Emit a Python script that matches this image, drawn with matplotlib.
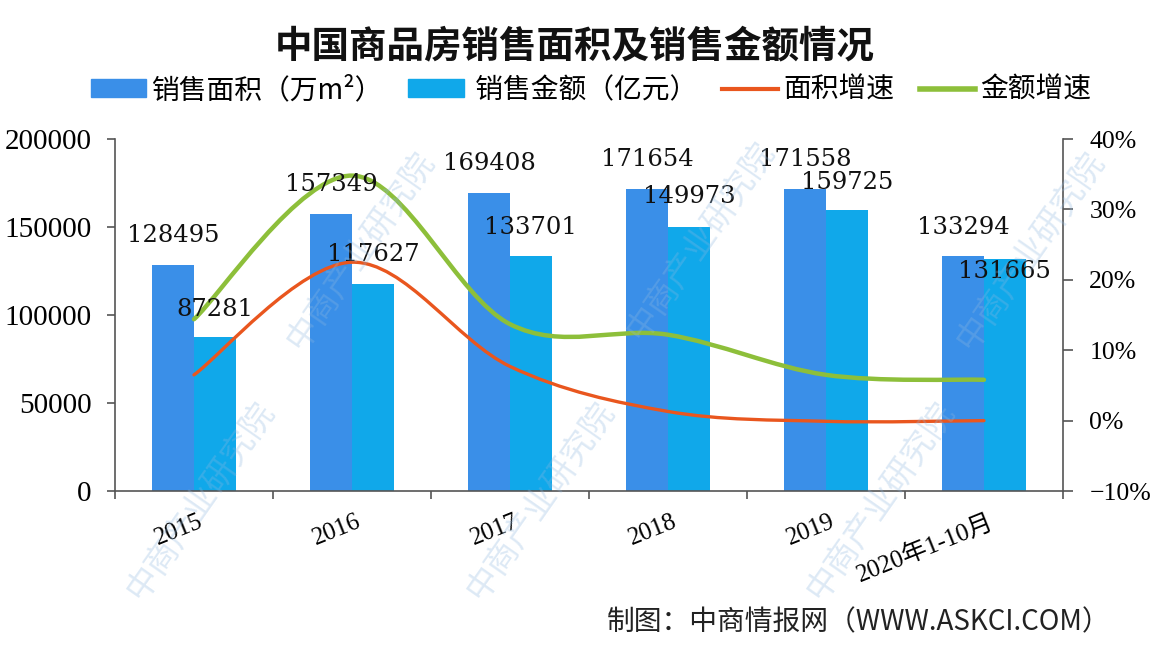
import numpy as np
import matplotlib
matplotlib.use('Agg')
import matplotlib.pyplot as plt
from matplotlib.path import Path
from matplotlib.patches import PathPatch, Patch
from matplotlib.lines import Line2D
from matplotlib.transforms import ScaledTranslation

plt.rcParams['font.family'] = ['Noto Sans CJK SC', 'DejaVu Sans']
plt.rcParams['axes.unicode_minus'] = True

# data
years = ['2015', '2016', '2017', '2018', '2019', '2020年1-10月']
area = [128495, 157349, 169408, 171654, 171558, 133294]      # 万m²
amount = [87281, 117627, 133701, 149973, 159725, 131665]     # 亿元
area_growth = [6.5, 22.5, 7.7, 1.3, -0.1, 0.0]               # %
amount_growth = [14.4, 34.8, 13.7, 12.2, 6.5, 5.8]           # %
left_ticks = [0, 50000, 100000, 150000, 200000]
right_ticks = [-10, 0, 10, 20, 30, 40]

c_area = '#3a8fe8'
c_amount = '#10a8ea'
c_area_g = '#e9561e'
c_amount_g = '#8dbf3a'
spine_c = '#555555'
serif = ['Liberation Serif', 'Noto Sans CJK SC']


def smooth_path(xs, ys):
    # excel-like smoothed line: catmull-rom -> cubic bezier
    pts = np.column_stack([xs, ys]).astype(float)
    n = len(pts)
    verts = [pts[0]]
    codes = [Path.MOVETO]
    for i in range(n - 1):
        p0 = pts[max(i - 1, 0)]
        p1 = pts[i]
        p2 = pts[i + 1]
        p3 = pts[min(i + 2, n - 1)]
        verts += [p1 + (p2 - p0) / 6, p2 - (p3 - p1) / 6, p2]
        codes += [Path.CURVE4] * 3
    return Path(verts, codes)


fig = plt.figure(figsize=(11.5, 6.52), dpi=100)
ax = fig.add_axes([0.1, 0.2469, 0.8243, 0.5399])
ax2 = ax.twinx()

x = np.arange(len(years))
w = 0.265
ax.bar(x - w / 2, area, w, color=c_area, zorder=2)
ax.bar(x + w / 2, amount, w, color=c_amount, zorder=2)

ax.set_xlim(-0.5, len(years) - 0.5)
ax.set_ylim(0, 200000)
ax2.set_ylim(-10, 40)

# growth lines (smoothed)
ax2.add_patch(PathPatch(smooth_path(x, area_growth), fill=False,
                        edgecolor=c_area_g, lw=2.4, capstyle='round', zorder=3))
ax2.add_patch(PathPatch(smooth_path(x, amount_growth), fill=False,
                        edgecolor=c_amount_g, lw=3.2, capstyle='round', zorder=3))

# value labels
dy_area = [21, 21, 21, 21, 21, 21]
dy_amount = [20, 21, 20, 22, 20, -9]
for i in range(len(years)):
    ax2.annotate(str(area[i]), xy=(x[i] - w / 2, area[i]), xycoords=ax.transData,
                 xytext=(0, dy_area[i]), textcoords='offset points',
                 ha='center', va='center', fontsize=17.5, family='DejaVu Serif',
                 color='#111111', zorder=5)
    ax2.annotate(str(amount[i]), xy=(x[i] + w / 2, amount[i]), xycoords=ax.transData,
                 xytext=(0, dy_amount[i]), textcoords='offset points',
                 ha='center', va='center', fontsize=17.5, family='DejaVu Serif',
                 color='#111111', zorder=5)

# axes styling
for s in ['top', 'right']:
    ax.spines[s].set_visible(False)
for s in ['top', 'left', 'bottom']:
    ax2.spines[s].set_visible(False)
ax.spines['left'].set_color(spine_c)
ax.spines['bottom'].set_color(spine_c)
ax2.spines['right'].set_color(spine_c)
for sp in [ax.spines['left'], ax.spines['bottom'], ax2.spines['right']]:
    sp.set_linewidth(1.2)

ax.set_yticks(left_ticks)
ax.set_yticklabels([str(v) for v in left_ticks], family=serif, fontsize=21)
ax.tick_params(axis='y', length=6, width=1.2, color=spine_c, pad=11)

ax2.set_yticks(right_ticks)
ax2.set_yticklabels([f'{v}%'.replace('-', '\u2212') for v in right_ticks],
                    family=serif, fontsize=18.5)
ax2.tick_params(axis='y', length=7, width=1.2, color=spine_c, pad=12)

ax.set_xticks(np.arange(-0.5, len(years), 1))
ax.set_xticklabels([])
ax.tick_params(axis='x', which='major', length=6, width=1.2, color=spine_c)
ax.set_xticks(x, years, minor=True)
ax.tick_params(axis='x', which='minor', length=0, pad=14)
for lbl in ax.get_xticklabels(minor=True):
    lbl.set_family(serif)
    lbl.set_fontsize(18)
    lbl.set_rotation(22)
    lbl.set_ha('right')
    lbl.set_va('top')
    lbl.set_rotation_mode('anchor')
    lbl.set_transform(lbl.get_transform() + ScaledTranslation(3 / 72, 0, fig.dpi_scale_trans))

# title & legend
fig.text(0.5, 0.93, '中国商品房销售面积及销售金额情况', ha='center', va='center',
         fontsize=27, fontweight='bold', color='#111111')

handles = [Patch(color=c_area), Patch(color=c_amount),
           Line2D([], [], color=c_area_g, lw=3), Line2D([], [], color=c_amount_g, lw=4)]
labels = ['销售面积（万m²）', ' 销售金额（亿元）', '面积增速', '金额增速']
fig.legend(handles, labels, loc='center', bbox_to_anchor=(0.514, 0.862), ncol=4,
           frameon=False, fontsize=20, handlelength=2.0, handleheight=0.6,
           handletextpad=0.2, columnspacing=0.9)

fig.text(1110 / 1150, 1 - 622 / 652, '制图：中商情报网（WWW.ASKCI.COM）',
         ha='right', va='center', fontsize=20, color='#222222')

# faint watermarks, kept inside the canvas
wm = [(200, 500), (540, 500), (880, 500), (360, 250), (700, 240), (1030, 250)]
for px, py in wm:
    fig.text(px / 1150, 1 - py / 652, '中商产业研究院', rotation=55, ha='center', va='center',
             fontsize=24, color='#8fb8e0', alpha=0.3, zorder=10)

fig.savefig('out.png', dpi=100)
